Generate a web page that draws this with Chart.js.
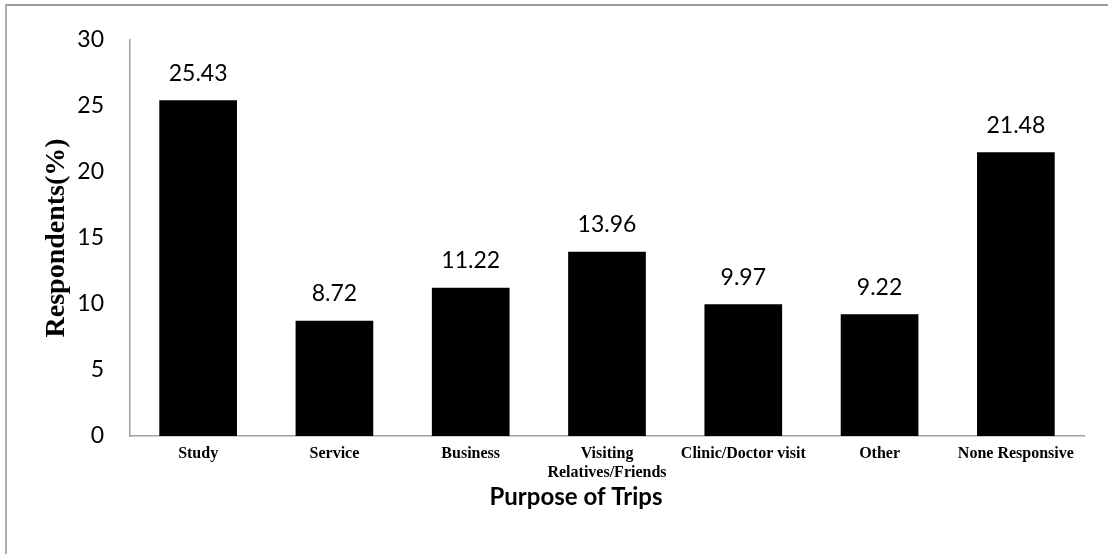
<!DOCTYPE html>
<html>
<head>
<meta charset="utf-8">
<script src="https://cdn.jsdelivr.net/npm/chart.js@4.4.1/dist/chart.umd.min.js"></script>
<style>
    html, body { margin: 0; padding: 0; background: #fff; }
    #wrap { position: relative; width: 1108px; height: 554px; }
    #frame {
        position: absolute; left: 5px; top: 4px; right: 0; bottom: 0;
        border-top: 2px solid #9c9c9c; border-left: 2px solid #adadad;
        pointer-events: none;
    }
</style>
</head>
<body>
<div id="wrap">
    <canvas id="chart-trips"></canvas>
    <div id="frame"></div>
</div>
<script>
// Purpose of trips — share of respondents (%)

const CATEGORIES = [
    "Study",
    "Service",
    "Business",
    ["Visiting", "Relatives/Friends"],
    "Clinic/Doctor visit",
    "Other",
    "None Responsive",
];
const RESPONDENTS = [25.43, 8.72, 11.22, 13.96, 9.97, 9.22, 21.48];
const Y_TICKS = [0, 5, 10, 15, 20, 25, 30];

const X_TITLE = "Purpose of Trips";
const Y_TITLE = "Respondents(%)";

const SANS = "Lato, 'Open Sans', sans-serif";
const SERIF = "'Liberation Serif', 'Times New Roman', serif";
const AXIS_GREY = "#a0a0a0";

// value printed above each bar
const barValues = {
    id: "barValues",
    afterDatasetsDraw(chart) {
        const { ctx } = chart;
        const meta = chart.getDatasetMeta(0);
        ctx.save();
        ctx.fillStyle = "#000";
        ctx.font = `23px ${SANS}`;
        ctx.textAlign = "center";
        ctx.textBaseline = "middle";
        meta.data.forEach((bar, i) => {
            ctx.fillText(RESPONDENTS[i].toFixed(2), bar.x, bar.y - 27);
        });
        ctx.restore();
    },
};

// x axis title sits a little left of the plot centre
const xTitle = {
    id: "xTitle",
    afterDraw(chart) {
        const { ctx, chartArea } = chart;
        ctx.save();
        ctx.fillStyle = "#000";
        ctx.font = `bold 24px ${SANS}`;
        ctx.textAlign = "center";
        ctx.textBaseline = "middle";
        ctx.fillText(X_TITLE, (chartArea.left + chartArea.right) / 2 - 31, chartArea.bottom + 61);
        ctx.restore();
    },
};

function draw() {
    const ctx = document.getElementById("chart-trips");
    new Chart(ctx, {
        type: "bar",
        data: {
            labels: CATEGORIES,
            datasets: [{
                data: RESPONDENTS,
                backgroundColor: "#000",
                barPercentage: 0.57,
                categoryPercentage: 1.0,
            }],
        },
        options: {
            responsive: true,
            maintainAspectRatio: false,
            animation: false,
            layout: { padding: { top: 34, right: 24, left: 0, bottom: 0 } },
            plugins: {
                legend: { display: false },
                tooltip: { enabled: false },
            },
            scales: {
                x: {
                    grid: { display: false, drawTicks: false },
                    border: { color: AXIS_GREY, width: 1.5 },
                    ticks: {
                        color: "#000",
                        font: { family: SERIF, size: 16, weight: "bold", lineHeight: 1.15 },
                        padding: 9,
                        maxRotation: 0,
                        autoSkip: false,
                    },
                    afterFit: (scale) => { scale.height = 118; },
                },
                y: {
                    min: 0,
                    max: 30,
                    afterBuildTicks: (scale) => { scale.ticks = Y_TICKS.map(v => ({ value: v })); },
                    grid: { display: false, drawTicks: false },
                    border: { color: AXIS_GREY, width: 1.5 },
                    ticks: {
                        color: "#000",
                        font: { family: SANS, size: 23 },
                        padding: 26,
                    },
                    title: {
                        display: true,
                        text: Y_TITLE,
                        color: "#000",
                        font: { family: SERIF, size: 28, weight: "bold" },
                        padding: { top: 40, bottom: 0 },
                    },
                    afterFit: (scale) => { scale.width = 130; },
                },
            },
        },
        plugins: [barValues, xTitle],
    });
}

document.addEventListener("DOMContentLoaded", draw);
</script>
</body>
</html>
